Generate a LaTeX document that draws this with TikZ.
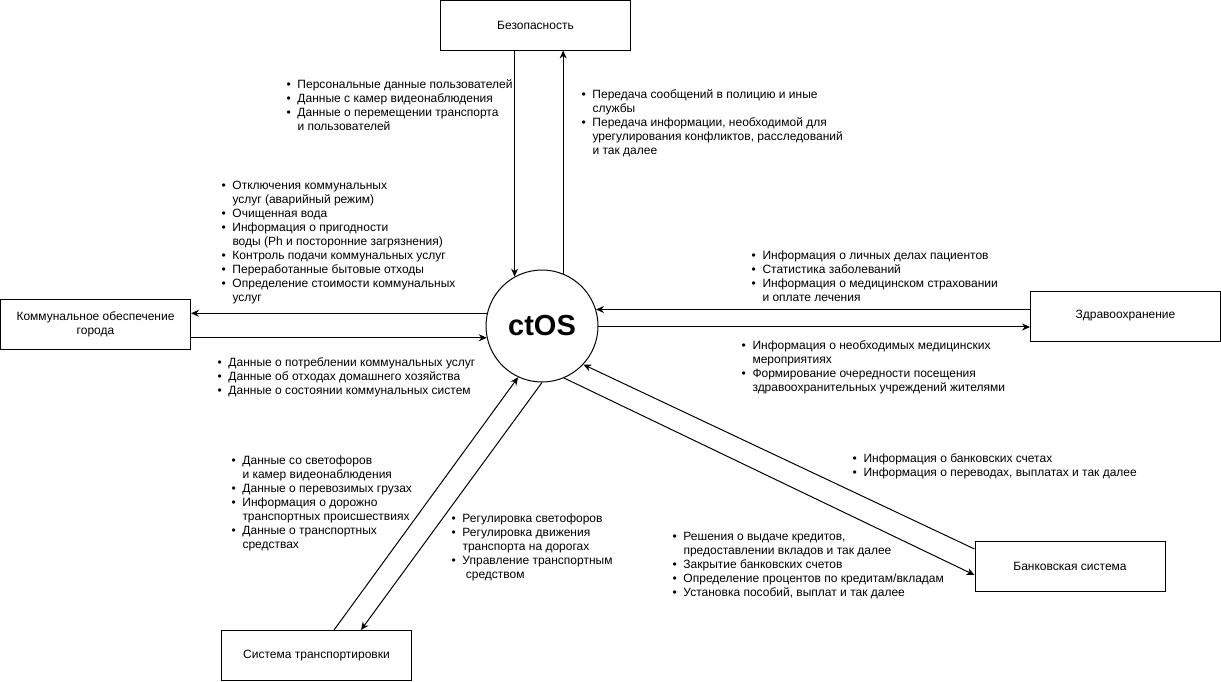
\documentclass[tikz,border=0pt]{standalone}
\usepackage{fontspec}
\setmainfont{Liberation Sans}
\usetikzlibrary{
  shapes,
  calc,
  positioning,
  arrows.meta
}

\newcommand{\bu}{\makebox[11pt][l]{\textbullet}}
\newcommand{\lst}[1]{\begin{tabular}{@{}l@{}l@{}}#1\end{tabular}}

\tikzset{
  block/.style = {draw, rectangle, minimum width=190pt, minimum height=50pt, align=center, font=\fontsize{12}{14}\selectfont},
  notes/.style = {anchor=north west, inner sep=0pt, font=\fontsize{12}{14}\selectfont}
}

\begin{document}
\begin{tikzpicture}[x=1pt, y=-1pt, line width=1pt, >={Stealth[length=8pt,width=7pt]}]
    \useasboundingbox (0,0) rectangle (1221,681);

    \node[circle, draw, minimum size=112pt, inner sep=0pt, font=\fontsize{29}{32}\selectfont\bfseries] (ctos) at (542,326) {ctOS};
    \node[block] (sec) at (535.5,25) {Безопасность};
    \node[block] (com) at (95.5,324.5) {Коммунальное обеспечение\\города};
    \node[block] (hlth) at (1125.5,316) {Здравоохранение};
    \node[block] (bank) at (1070,566) {Банковская система};
    \node[block] (tr) at (316.5,655.5) {Система транспортировки};

    \draw[->] (ctos.119 |- sec.south) -- (ctos.119);
    \draw[->] (ctos.68) -- (ctos.68 |- sec.south);
    \draw[->] (ctos.167) -- (ctos.167 -| com.east);
    \draw[->] (ctos.192 -| com.east) -- (ctos.192);
    \draw[->] (ctos.17 -| hlth.west) -- (ctos.17);
    \draw[->] (ctos.359) -- (ctos.359 -| hlth.west);
    \draw[->] ($(bank.west)+(0,-17)$) -- (ctos.317);
    \draw[->] (ctos.293) -- ($(bank.west)+(0,9)$);
    \draw[->] ($(tr.north)+(17.5,0)$) -- (ctos.245);
    \draw[->] (ctos.270) -- ($(tr.north)+(44.5,0)$);

    \node[notes] (secL) at (286,78) {\lst{\bu & Персональные данные пользователей\\ \bu & Данные с камер видеонаблюдения\\ \bu & Данные о перемещении транспорта\\ & и пользователей}};
    \node[notes] (secR) at (581,88) {\lst{\bu & Передача сообщений в полицию и иные\\ & службы\\ \bu & Передача информации, необходимой для\\ & урегулирования конфликтов, расследований\\ & и так далее}};
    \node[notes] (comT) at (221,179) {\lst{\bu & Отключения коммунальных\\ & услуг (аварийный режим)\\ \bu & Очищенная вода\\ \bu & Информация о пригодности\\ & воды (Ph и посторонние загрязнения)\\ \bu & Контроль подачи коммунальных услуг\\ \bu & Переработанные бытовые отходы\\ \bu & Определение стоимости коммунальных\\ & услуг}};
    \node[notes] (comB) at (217,356) {\lst{\bu & Данные о потреблении коммунальных услуг\\ \bu & Данные об отходах домашнего хозяйства\\ \bu & Данные о состоянии коммунальных систем}};
    \node[notes] (hlthT) at (751,249) {\lst{\bu & Информация о личных делах пациентов\\ \bu & Статистика заболеваний\\ \bu & Информация о медицинском страховании\\ & и оплате лечения}};
    \node[notes] (hlthB) at (741,339) {\lst{\bu & Информация о необходимых медицинских\\ & мероприятиях\\ \bu & Формирование очередности посещения\\ & здравоохранительных учреждений жителями}};
    \node[notes] (bankT) at (852,452) {\lst{\bu & Информация о банковских счетах\\ \bu & Информация о переводах, выплатах и так далее}};
    \node[notes] (bankB) at (672,530) {\lst{\bu & Решения о выдаче кредитов,\\ & предоставлении вкладов и так далее\\ \bu & Закрытие банковских счетов\\ \bu & Определение процентов по кредитам/вкладам\\ \bu & Установка пособий, выплат и так далее}};
    \node[notes] (trL) at (231,454) {\lst{\bu & Данные со светофоров\\ & и камер видеонаблюдения\\ \bu & Данные о перевозимых грузах\\ \bu & Информация о дорожно\\ & транспортных происшествиях\\ \bu & Данные о транспортных\\ & средствах}};
    \node[notes] (trR) at (451,512) {\lst{\bu & Регулировка светофоров\\ \bu & Регулировка движения\\ & транспорта на дорогах\\ \bu & Управление транспортным\\ & \ средством}};
  \end{tikzpicture}
\end{document}
